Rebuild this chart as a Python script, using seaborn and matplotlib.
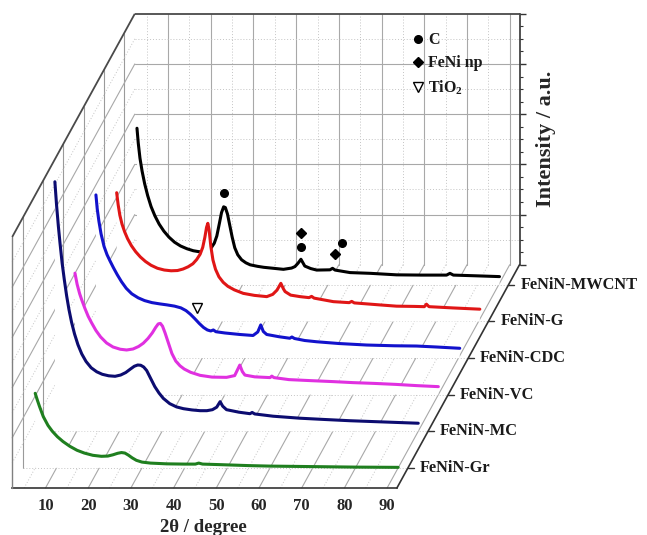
import numpy as np
import pandas as pd
import matplotlib
matplotlib.use("Agg")
import matplotlib.pyplot as plt
import seaborn as sns
from matplotlib.lines import Line2D

# ---------------- data ----------------
samples = ["FeNiN-Gr", "FeNiN-MC", "FeNiN-VC", "FeNiN-CDC", "FeNiN-G", "FeNiN-MWCNT"]
colors = ["#1f7f1f", "#0c0c70", "#e030e0", "#1212cc", "#e01616", "#000000"]

theta_gr = [5.0, 5.5, 6.0, 6.9, 8.0, 9.0, 10.2, 11.5, 13.1, 14.8, 16.5, 18.5, 20.5, 22.0,
            23.2, 24.3, 25.2, 26.0, 26.8, 27.7, 28.7, 30.0, 32.0, 35.8, 40.0, 42.5, 43.3,
            44.2, 48.0, 55.0, 60.0, 70.0, 80.0, 90.0]
int_gr = [29.7, 27.0, 24.5, 20.4, 16.9, 14.6, 12.4, 10.5, 8.6, 7.0, 5.9, 5.0, 4.6, 4.7,
          5.2, 5.8, 6.1, 5.9, 5.1, 4.0, 3.0, 2.3, 1.9, 1.6, 1.5, 1.5, 1.9,
          1.5, 1.3, 0.9, 0.7, 0.5, 0.3, 0.2]

theta_mc = [4.9, 5.3, 5.7, 6.1, 6.6, 7.1, 7.65, 8.2, 8.8, 9.5, 10.3, 11.2, 12.2, 13.4,
            14.7, 16.0, 17.5, 19.0, 20.3, 21.5, 22.6, 23.5, 24.3, 25.0, 25.7, 26.4, 27.2,
            28.3, 29.3, 30.3, 31.8, 33.4, 35.0, 37.0, 38.9, 40.5, 41.8, 42.8, 43.6, 44.2,
            45.1, 48.0, 50.6, 51.1, 51.7, 56.0, 62.3, 68.0, 74.0, 82.0, 90.0]
int_mc = [99.4, 90.0, 82.0, 75.0, 67.0, 60.5, 54.0, 48.5, 43.5, 38.8, 34.5, 30.8, 27.8, 25.3,
          23.7, 22.7, 22.1, 21.9, 22.4, 23.4, 24.8, 25.9, 26.4, 26.3, 25.6, 24.2, 21.5,
          17.8, 15.2, 13.1, 11.0, 9.7, 9.0, 8.5, 8.2, 8.2, 8.6, 9.6, 11.8, 10.0,
          8.6, 7.6, 7.0, 7.5, 6.9, 6.0, 5.2, 4.7, 4.2, 3.7, 3.2]

theta_vc = [4.9, 5.4, 6.0, 6.5, 7.2, 8.0, 8.8, 9.8, 10.9, 12.3, 13.8, 15.5, 17.0, 18.5,
            19.8, 20.9, 22.0, 23.0, 23.8, 24.4, 24.9, 25.4, 26.0, 26.8, 27.6, 28.5, 29.5,
            30.5, 32.0, 34.2, 37.0, 40.4, 42.3, 43.5, 44.1, 44.7, 47.0, 50.6, 51.0, 51.5,
            55.0, 60.0, 65.4, 70.0, 74.8, 80.0, 85.0, 90.0]
int_vc = [48.4, 44.0, 40.2, 37.7, 34.5, 31.2, 28.6, 25.6, 23.0, 20.6, 19.0, 18.1, 17.8, 18.2,
          19.2, 20.5, 22.4, 24.6, 26.8, 28.2, 28.4, 27.3, 24.6, 20.5, 16.4, 13.4, 11.5,
          10.2, 8.9, 7.7, 7.0, 6.9, 7.6, 11.8, 9.2, 7.8, 7.1, 6.8, 7.4, 6.8,
          6.0, 5.6, 5.2, 4.8, 4.5, 4.1, 3.6, 3.2]

theta_cdc = [5.1, 5.4, 5.8, 6.3, 7.0, 7.7, 8.4, 9.2, 10.1, 11.1, 12.2, 13.5, 15.0, 16.5,
             18.2, 20.0, 21.7, 23.5, 25.0, 26.2, 27.2, 28.2, 29.3, 30.3, 31.2, 32.0, 32.6,
             33.2, 35.3, 38.8, 41.9, 43.0, 43.7, 44.3, 45.1, 48.0, 50.5, 51.0, 51.6, 54.0,
             56.8, 62.0, 68.5, 75.0, 80.2, 85.0, 90.3]
int_cdc = [65.0, 59.5, 54.5, 49.5, 44.5, 41.2, 38.7, 36.0, 33.2, 30.4, 27.8, 25.6, 24.0, 22.9,
           22.1, 21.6, 21.2, 20.7, 20.0, 18.9, 17.5, 15.8, 13.8, 12.2, 11.2, 10.8, 11.2,
           10.5, 10.0, 9.4, 9.0, 10.4, 13.2, 10.6, 9.4, 8.5, 7.9, 8.4, 7.8, 7.0,
           6.5, 5.8, 5.2, 4.9, 4.8, 4.4, 3.9]

theta_g = [5.25, 5.6, 6.0, 6.5, 7.1, 7.8, 8.7, 9.7, 10.8, 12.0, 13.3, 14.8, 16.4, 18.0,
           19.5, 20.8, 22.0, 23.1, 24.0, 24.8, 25.4, 25.9, 26.3, 26.6, 26.9, 27.3, 27.8,
           28.4, 29.2, 30.2, 31.3, 32.8, 34.9, 37.5, 40.4, 41.8, 42.8, 43.7, 44.3, 44.7,
           46.0, 48.2, 50.3, 50.9, 51.5, 56.0, 59.7, 60.3, 60.9, 66.9, 70.8, 75.0, 77.3,
           77.8, 78.4, 84.0, 90.3]
int_g = [51.3, 46.5, 42.3, 38.8, 35.8, 33.0, 30.2, 27.8, 25.7, 23.9, 22.4, 21.2, 20.5, 20.2,
         20.3, 20.9, 21.8, 23.0, 24.7, 26.8, 29.5, 33.5, 37.5, 39.1, 36.5, 30.0, 24.5,
         20.8, 17.8, 15.6, 14.0, 12.6, 11.2, 10.4, 9.9, 10.8, 12.5, 15.2, 13.0, 11.9,
         10.5, 9.9, 9.5, 10.0, 9.3, 7.9, 7.5, 8.0, 7.4, 6.6, 6.1, 6.0, 5.9,
         6.9, 5.9, 5.4, 4.9]

theta_mw = [5.3, 5.6, 6.0, 6.5, 7.1, 7.8, 8.6, 9.5, 10.5, 11.6, 12.8, 14.1, 15.5, 17.0,
            18.5, 19.9, 21.0, 21.9, 22.7, 23.4, 24.0, 24.6, 25.1, 25.6, 26.0, 26.5, 27.0,
            27.6, 28.2, 28.9, 29.8, 30.8, 31.8, 33.5, 35.0, 39.6, 41.5, 42.3, 43.0, 43.7,
            44.2, 44.6, 46.0, 47.4, 50.5, 51.1, 51.7, 55.2, 60.0, 66.1, 72.0, 77.8, 78.6,
            79.4, 85.0, 90.2]
int_mw = [62.4, 56.5, 50.5, 45.3, 40.3, 35.6, 31.2, 27.5, 24.2, 21.4, 19.0, 17.0, 15.5, 14.4,
          13.6, 13.2, 13.3, 13.8, 14.8, 16.6, 19.5, 24.5, 28.8, 31.1, 30.8, 28.2, 24.0,
          19.0, 14.8, 12.0, 10.0, 8.8, 8.0, 7.4, 7.0, 6.2, 6.7, 7.3, 8.6, 10.2,
          8.7, 7.5, 6.5, 5.9, 6.0, 6.6, 5.9, 4.9, 4.6, 4.0, 3.9, 3.9, 4.6,
          3.9, 3.6, 3.3]

thetas = [theta_gr, theta_mc, theta_vc, theta_cdc, theta_g, theta_mw]
intens = [int_gr, int_mc, int_vc, int_cdc, int_g, int_mw]

# phase markers: (sample index, 2theta, intensity)
carbon_marks = [(5, 25.7, 36.5), (5, 43.7, 15.2), (5, 53.4, 16.8)]
feni_marks = [(5, 43.7, 20.6), (5, 51.7, 12.3)]
tio2_marks = [(3, 28.7, 19.8)]

x_ticks = [10, 20, 30, 40, 50, 60, 70, 80, 90]

# ---------------- 3D box geometry ----------------
TH_MIN, TH_MAX = 2.2, 92.3
I_MAX = 100.0
D_FRONT, D_BACK = -0.55, 5.55
SX, SY = 4.707, 14.58      # oblique shift per depth unit


def proj(theta, inten, depth):
    theta = np.asarray(theta, float)
    inten = np.asarray(inten, float)
    return theta + (depth - D_FRONT) * SX, inten + (depth - D_FRONT) * SY


rows = []
for k, (name, th, it) in enumerate(zip(samples, thetas, intens)):
    X, Y = proj(th, it, k)
    rows.append(pd.DataFrame({"sample": name, "depth": k, "theta": th,
                              "intensity": it, "X": X, "Y": Y}))
df = pd.concat(rows, ignore_index=True)

# ---------------- style ----------------
sns.set_theme(style="white")
plt.rcParams["font.family"] = ["Liberation Serif", "DejaVu Serif"]
plt.rcParams["font.weight"] = "bold"
plt.rcParams["mathtext.fontset"] = "custom"
plt.rcParams["mathtext.rm"] = "Liberation Serif:bold"
plt.rcParams["mathtext.it"] = "Liberation Serif:bold"
plt.rcParams["text.color"] = "#1a1a1a"

fig = plt.figure(figsize=(6.47, 5.35), dpi=100)
ax = fig.add_axes([0, 0, 1, 1])
ax.set_xlim(-0.656, 150.87)
ax.set_ylim(-18.73, 194.42)
ax.set_facecolor("white")

MAJ = dict(color="#a8a8a8", lw=0.8, zorder=1)
MIN = dict(color="#c4c4c4", lw=0.7, ls=(0, (1, 2)), zorder=1)
EDGE = dict(color="#4a4a4a", lw=1.3, zorder=30, solid_capstyle="butt")


def seg(t0, i0, d0, t1, i1, d1, **kw):
    X0, Y0 = proj(t0, i0, d0)
    X1, Y1 = proj(t1, i1, d1)
    ax.plot([X0, X1], [Y0, Y1], **kw)


# back wall
for t in x_ticks:
    seg(t, 0, D_BACK, t, I_MAX, D_BACK, **MAJ)
for t in np.arange(5, 90, 10):
    seg(t, 0, D_BACK, t, I_MAX, D_BACK, **MIN)
for i in [20, 40, 60, 80]:
    seg(TH_MIN, i, D_BACK, TH_MAX, i, D_BACK, **MAJ)
for i in [10, 30, 50, 70, 90]:
    seg(TH_MIN, i, D_BACK, TH_MAX, i, D_BACK, **MIN)

# left wall
for d in range(len(samples)):
    seg(TH_MIN, 0, d, TH_MIN, I_MAX, d, color="#9a9a9a", lw=0.8, zorder=1)
for i in [20, 40, 60, 80]:
    seg(TH_MIN, i, D_FRONT, TH_MIN, i, D_BACK, **MAJ)
for i in [10, 30, 50, 70, 90]:
    seg(TH_MIN, i, D_FRONT, TH_MIN, i, D_BACK, **MIN)

# floor
for t in x_ticks:
    seg(t, 0, D_FRONT, t, 0, D_BACK, **MAJ)
for t in np.arange(5, 90, 10):
    seg(t, 0, D_FRONT, t, 0, D_BACK, **MIN)
for d in range(len(samples)):
    seg(TH_MIN, 0, d, TH_MAX, 0, d, **MIN)

# curves, back to front, each with an opaque sheet down to its floor
for k in reversed(range(len(samples))):
    sub = df[df["sample"] == samples[k]]
    th = sub["theta"].to_numpy()
    fx, fy = proj(np.r_[th, th[-1], th[0]], np.r_[sub["intensity"].to_numpy(), 0, 0], k)
    ax.fill(fx, fy, color="white", lw=0, zorder=5 + 2 * (5 - k))
    sns.lineplot(data=sub, x="X", y="Y", sort=False, estimator=None, color=colors[k],
                 lw=2.2, ax=ax, zorder=6 + 2 * (5 - k), legend=False,
                 solid_joinstyle="round", solid_capstyle="round")

# phase markers
for k, t, i in carbon_marks:
    X, Y = proj(t, i, k)
    ax.plot(X, Y, marker="o", ms=5.5, color="black", ls="none", zorder=40)
for k, t, i in feni_marks:
    X, Y = proj(t, i, k)
    ax.plot(X, Y, marker="D", ms=5.2, color="black", ls="none", zorder=40)
for k, t, i in tio2_marks:
    X, Y = proj(t, i, k)
    ax.plot(X, Y, marker="v", ms=7, mfc="none", mec="black", mew=1.0, ls="none", zorder=40)

# box edges
seg(TH_MIN, 0, D_FRONT, TH_MIN, I_MAX, D_FRONT, color="#808080", lw=1.0, zorder=30)
seg(TH_MIN, I_MAX, D_FRONT, TH_MIN, I_MAX, D_BACK, **EDGE)
seg(TH_MIN, I_MAX, D_BACK, TH_MAX, I_MAX, D_BACK, **EDGE)
seg(TH_MAX, 0, D_FRONT, TH_MAX, 0, D_BACK, color="#333333", lw=1.2, zorder=30)

# depth axis ticks and sample names
for k, name in enumerate(samples):
    X, Y = proj(TH_MAX, 0, k)
    ax.plot([X, X + 1.3], [Y, Y], color="#333333", lw=1.0, zorder=30)
    ax.text(X + 2.8, Y, name, fontsize=11.8, fontweight="bold", ha="left", va="center")

# front 2theta axis on the bottom spine
for s in ["left", "top"]:
    ax.spines[s].set_visible(False)
ax.spines["bottom"].set_position(("data", 0))
ax.spines["bottom"].set_bounds(TH_MIN, TH_MAX)
ax.spines["bottom"].set_color("#333333")
ax.spines["bottom"].set_linewidth(1.2)
ax.set_xticks(x_ticks)
ax.set_xticks(np.arange(4, 92, 2), minor=True)
ax.tick_params(axis="x", which="major", direction="out", length=4, width=1.0,
               color="#333333", labelsize=12, pad=3)
ax.tick_params(axis="x", which="minor", direction="out", length=2.5, width=0.8,
               color="#333333")
ax.set_xlabel("2θ / degree", fontsize=13.5, fontweight="bold")
ax.xaxis.set_label_coords(0.315, 0.030)

# intensity axis on the back right edge
Xr, Yr0 = proj(TH_MAX, 0, D_BACK)
ax.spines["right"].set_position(("data", Xr))
ax.spines["right"].set_bounds(Yr0, Yr0 + I_MAX)
ax.spines["right"].set_color("#333333")
ax.spines["right"].set_linewidth(1.2)
ax.yaxis.tick_right()
ax.set_yticks(Yr0 + np.arange(0, 101, 20))
ax.set_yticks(Yr0 + np.arange(5, 100, 5), minor=True)
ax.set_yticklabels([])
ax.tick_params(axis="y", which="major", direction="out", length=4, width=1.0, color="#333333")
ax.tick_params(axis="y", which="minor", direction="out", length=2.5, width=0.8, color="#333333")
ax.yaxis.set_label_position("right")
ax.set_ylabel("Intensity / a.u.", fontsize=16, fontweight="bold", rotation=90)
ax.yaxis.set_label_coords(0.828, 0.740)

# legend of phases
handles = [Line2D([], [], marker="o", ls="none", color="black", ms=5.5),
           Line2D([], [], marker="D", ls="none", color="black", ms=5.2),
           Line2D([], [], marker="v", ls="none", mfc="none", mec="black", ms=7, mew=1.0)]
labels = ["C", "FeNi np", "TiO$_2$"]
ax.legend(handles, labels, loc="upper left", bbox_to_anchor=(0.638, 0.94), frameon=False,
          handlelength=0.6, handletextpad=0.35, labelspacing=0.45,
          borderaxespad=0, borderpad=0, prop={"weight": "bold", "size": 11.5})

fig.savefig("out.png", dpi=100, facecolor="white")
